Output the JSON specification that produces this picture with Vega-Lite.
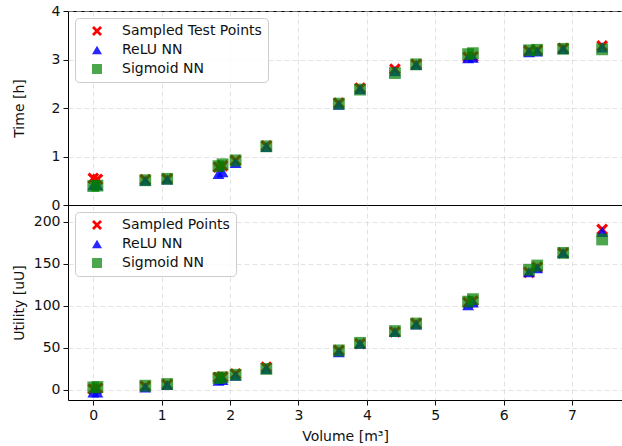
{
  "$schema": "https://vega.github.io/schema/vega-lite/v6.json",
  "padding": {"left": 11, "top": 3, "right": 0, "bottom": 0},
  "bounds": "flush",
  "config": {
    "font": "DejaVu Sans",
    "view": {"stroke": "black", "strokeWidth": 1},
    "axis": {
      "labelFont": "DejaVu Sans", "titleFont": "DejaVu Sans",
      "labelFontSize": 14, "titleFontSize": 14, "titleFontWeight": "normal",
      "labelColor": "#111", "titleColor": "#111",
      "tickColor": "#111", "tickSize": 5, "labelPadding": 3,
      "domain": false,
      "gridColor": "#cccccc", "gridOpacity": 0.55, "gridDash": [5, 3]
    },
    "legend": {
      "orient": "top-left", "offset": 7, "title": null,
      "labelFont": "DejaVu Sans", "labelFontSize": 14, "labelColor": "#111",
      "strokeColor": "#cccccc", "fillColor": "rgba(255,255,255,0.85)",
      "cornerRadius": 4, "padding": 6, "rowPadding": 5, "labelOffset": 18,
      "symbolOffset": 9, "symbolStrokeWidth": 0
    }
  },
  "data": {"values": [
    {"panel": "t", "s": "Sampled Test Points", "v": 0.0, "y": 0.55},
    {"panel": "t", "s": "Sampled Test Points", "v": 0.06, "y": 0.53},
    {"panel": "t", "s": "Sampled Test Points", "v": 0.76, "y": 0.52},
    {"panel": "t", "s": "Sampled Test Points", "v": 1.08, "y": 0.54},
    {"panel": "t", "s": "Sampled Test Points", "v": 1.83, "y": 0.78},
    {"panel": "t", "s": "Sampled Test Points", "v": 1.89, "y": 0.81},
    {"panel": "t", "s": "Sampled Test Points", "v": 2.08, "y": 0.92},
    {"panel": "t", "s": "Sampled Test Points", "v": 2.53, "y": 1.22},
    {"panel": "t", "s": "Sampled Test Points", "v": 3.59, "y": 2.1},
    {"panel": "t", "s": "Sampled Test Points", "v": 3.9, "y": 2.41},
    {"panel": "t", "s": "Sampled Test Points", "v": 4.41, "y": 2.8},
    {"panel": "t", "s": "Sampled Test Points", "v": 4.72, "y": 2.9},
    {"panel": "t", "s": "Sampled Test Points", "v": 5.48, "y": 3.05},
    {"panel": "t", "s": "Sampled Test Points", "v": 5.55, "y": 3.06},
    {"panel": "t", "s": "Sampled Test Points", "v": 6.37, "y": 3.18},
    {"panel": "t", "s": "Sampled Test Points", "v": 6.49, "y": 3.19},
    {"panel": "t", "s": "Sampled Test Points", "v": 6.87, "y": 3.23},
    {"panel": "t", "s": "Sampled Test Points", "v": 7.44, "y": 3.28},
    {"panel": "t", "s": "ReLU NN", "v": 0.0, "y": 0.41},
    {"panel": "t", "s": "ReLU NN", "v": 0.06, "y": 0.41},
    {"panel": "t", "s": "ReLU NN", "v": 0.76, "y": 0.5},
    {"panel": "t", "s": "ReLU NN", "v": 1.08, "y": 0.53},
    {"panel": "t", "s": "ReLU NN", "v": 1.83, "y": 0.64},
    {"panel": "t", "s": "ReLU NN", "v": 1.89, "y": 0.68},
    {"panel": "t", "s": "ReLU NN", "v": 2.08, "y": 0.87},
    {"panel": "t", "s": "ReLU NN", "v": 2.53, "y": 1.2},
    {"panel": "t", "s": "ReLU NN", "v": 3.59, "y": 2.07},
    {"panel": "t", "s": "ReLU NN", "v": 3.9, "y": 2.39},
    {"panel": "t", "s": "ReLU NN", "v": 4.41, "y": 2.76},
    {"panel": "t", "s": "ReLU NN", "v": 4.72, "y": 2.89},
    {"panel": "t", "s": "ReLU NN", "v": 5.48, "y": 3.03},
    {"panel": "t", "s": "ReLU NN", "v": 5.55, "y": 3.04},
    {"panel": "t", "s": "ReLU NN", "v": 6.37, "y": 3.15},
    {"panel": "t", "s": "ReLU NN", "v": 6.49, "y": 3.17},
    {"panel": "t", "s": "ReLU NN", "v": 6.87, "y": 3.22},
    {"panel": "t", "s": "ReLU NN", "v": 7.44, "y": 3.25},
    {"panel": "t", "s": "Sigmoid NN", "v": 0.0, "y": 0.39},
    {"panel": "t", "s": "Sigmoid NN", "v": 0.06, "y": 0.4},
    {"panel": "t", "s": "Sigmoid NN", "v": 0.76, "y": 0.51},
    {"panel": "t", "s": "Sigmoid NN", "v": 1.08, "y": 0.54},
    {"panel": "t", "s": "Sigmoid NN", "v": 1.83, "y": 0.8},
    {"panel": "t", "s": "Sigmoid NN", "v": 1.89, "y": 0.84},
    {"panel": "t", "s": "Sigmoid NN", "v": 2.08, "y": 0.92},
    {"panel": "t", "s": "Sigmoid NN", "v": 2.53, "y": 1.21},
    {"panel": "t", "s": "Sigmoid NN", "v": 3.59, "y": 2.09},
    {"panel": "t", "s": "Sigmoid NN", "v": 3.9, "y": 2.38},
    {"panel": "t", "s": "Sigmoid NN", "v": 4.41, "y": 2.72},
    {"panel": "t", "s": "Sigmoid NN", "v": 4.72, "y": 2.9},
    {"panel": "t", "s": "Sigmoid NN", "v": 5.48, "y": 3.11},
    {"panel": "t", "s": "Sigmoid NN", "v": 5.55, "y": 3.13},
    {"panel": "t", "s": "Sigmoid NN", "v": 6.37, "y": 3.19},
    {"panel": "t", "s": "Sigmoid NN", "v": 6.49, "y": 3.2},
    {"panel": "t", "s": "Sigmoid NN", "v": 6.87, "y": 3.22},
    {"panel": "t", "s": "Sigmoid NN", "v": 7.44, "y": 3.21},
    {"panel": "u", "s": "Sampled Points", "v": 0.0, "y": 1},
    {"panel": "u", "s": "Sampled Points", "v": 0.06, "y": 2},
    {"panel": "u", "s": "Sampled Points", "v": 0.76, "y": 4.5},
    {"panel": "u", "s": "Sampled Points", "v": 1.08, "y": 6.5},
    {"panel": "u", "s": "Sampled Points", "v": 1.83, "y": 15},
    {"panel": "u", "s": "Sampled Points", "v": 1.89, "y": 15.5},
    {"panel": "u", "s": "Sampled Points", "v": 2.08, "y": 19},
    {"panel": "u", "s": "Sampled Points", "v": 2.53, "y": 27},
    {"panel": "u", "s": "Sampled Points", "v": 3.59, "y": 47},
    {"panel": "u", "s": "Sampled Points", "v": 3.9, "y": 55},
    {"panel": "u", "s": "Sampled Points", "v": 4.41, "y": 69},
    {"panel": "u", "s": "Sampled Points", "v": 4.72, "y": 79},
    {"panel": "u", "s": "Sampled Points", "v": 5.48, "y": 104},
    {"panel": "u", "s": "Sampled Points", "v": 5.55, "y": 106},
    {"panel": "u", "s": "Sampled Points", "v": 6.37, "y": 140},
    {"panel": "u", "s": "Sampled Points", "v": 6.49, "y": 146},
    {"panel": "u", "s": "Sampled Points", "v": 6.87, "y": 163},
    {"panel": "u", "s": "Sampled Points", "v": 7.44, "y": 191},
    {"panel": "u", "s": "ReLU NN", "v": 0.0, "y": -3},
    {"panel": "u", "s": "ReLU NN", "v": 0.06, "y": -3},
    {"panel": "u", "s": "ReLU NN", "v": 0.76, "y": 3},
    {"panel": "u", "s": "ReLU NN", "v": 1.08, "y": 6},
    {"panel": "u", "s": "ReLU NN", "v": 1.83, "y": 11},
    {"panel": "u", "s": "ReLU NN", "v": 1.89, "y": 12},
    {"panel": "u", "s": "ReLU NN", "v": 2.08, "y": 17},
    {"panel": "u", "s": "ReLU NN", "v": 2.53, "y": 25},
    {"panel": "u", "s": "ReLU NN", "v": 3.59, "y": 45},
    {"panel": "u", "s": "ReLU NN", "v": 3.9, "y": 55},
    {"panel": "u", "s": "ReLU NN", "v": 4.41, "y": 69},
    {"panel": "u", "s": "ReLU NN", "v": 4.72, "y": 78},
    {"panel": "u", "s": "ReLU NN", "v": 5.48, "y": 101},
    {"panel": "u", "s": "ReLU NN", "v": 5.55, "y": 104},
    {"panel": "u", "s": "ReLU NN", "v": 6.37, "y": 140},
    {"panel": "u", "s": "ReLU NN", "v": 6.49, "y": 145},
    {"panel": "u", "s": "ReLU NN", "v": 6.87, "y": 163},
    {"panel": "u", "s": "ReLU NN", "v": 7.44, "y": 188},
    {"panel": "u", "s": "Sigmoid NN", "v": 0.0, "y": 3},
    {"panel": "u", "s": "Sigmoid NN", "v": 0.06, "y": 3.5},
    {"panel": "u", "s": "Sigmoid NN", "v": 0.76, "y": 5},
    {"panel": "u", "s": "Sigmoid NN", "v": 1.08, "y": 7},
    {"panel": "u", "s": "Sigmoid NN", "v": 1.83, "y": 14},
    {"panel": "u", "s": "Sigmoid NN", "v": 1.89, "y": 15},
    {"panel": "u", "s": "Sigmoid NN", "v": 2.08, "y": 18},
    {"panel": "u", "s": "Sigmoid NN", "v": 2.53, "y": 25},
    {"panel": "u", "s": "Sigmoid NN", "v": 3.59, "y": 47},
    {"panel": "u", "s": "Sigmoid NN", "v": 3.9, "y": 56},
    {"panel": "u", "s": "Sigmoid NN", "v": 4.41, "y": 70},
    {"panel": "u", "s": "Sigmoid NN", "v": 4.72, "y": 79},
    {"panel": "u", "s": "Sigmoid NN", "v": 5.48, "y": 105},
    {"panel": "u", "s": "Sigmoid NN", "v": 5.55, "y": 108},
    {"panel": "u", "s": "Sigmoid NN", "v": 6.37, "y": 143},
    {"panel": "u", "s": "Sigmoid NN", "v": 6.49, "y": 148},
    {"panel": "u", "s": "Sigmoid NN", "v": 6.87, "y": 163},
    {"panel": "u", "s": "Sigmoid NN", "v": 7.44, "y": 179}
  ]},
  "spacing": 0,
  "resolve": {
    "scale": {"color": "independent", "shape": "independent", "opacity": "independent", "y": "independent"},
    "legend": {"color": "independent", "shape": "independent", "opacity": "independent"}
  },
  "vconcat": [
    {
      "width": 554, "height": 194,
      "transform": [{"filter": "datum.panel == 't'"}],
      "mark": {"type": "point", "filled": true, "size": 140, "strokeWidth": 0},
      "encoding": {
        "x": {"field": "v", "type": "quantitative",
              "scale": {"domain": [-0.37, 7.73], "nice": false, "zero": false},
              "axis": {"title": null, "labels": false, "ticks": false, "values": [0,1,2,3,4,5,6,7], "grid": true}},
        "y": {"field": "y", "type": "quantitative",
              "scale": {"domain": [0, 4], "nice": false},
              "axis": {"title": "Time [h]", "values": [0,1,2,3,4], "grid": true, "titleX": -49, "titleBaseline": "middle"}},
        "color": {"field": "s", "type": "nominal",
                  "scale": {"domain": ["Sampled Test Points", "ReLU NN", "Sigmoid NN"], "range": ["#ff0000", "#0000ff", "#008000"]},
                  "legend": {"title": null}},
        "shape": {"field": "s", "type": "nominal",
                  "scale": {"domain": ["Sampled Test Points", "ReLU NN", "Sigmoid NN"],
                            "range": ["M-1,-0.62L-0.62,-1L0,-0.38L0.62,-1L1,-0.62L0.38,0L1,0.62L0.62,1L0,0.38L-0.62,1L-1,0.62L-0.38,0Z", "triangle-up", "square"]},
                  "legend": {"title": null}},
        "opacity": {"field": "s", "type": "nominal",
                    "scale": {"domain": ["Sampled Test Points", "ReLU NN", "Sigmoid NN"], "range": [1, 0.7, 0.7]},
                    "legend": {"title": null}}
      }
    },
    {
      "width": 554, "height": 195,
      "transform": [{"filter": "datum.panel == 'u'"}],
      "mark": {"type": "point", "filled": true, "size": 140, "strokeWidth": 0},
      "encoding": {
        "x": {"field": "v", "type": "quantitative",
              "scale": {"domain": [-0.37, 7.73], "nice": false, "zero": false},
              "axis": {"title": "Volume [m³]", "values": [0,1,2,3,4,5,6,7], "grid": true, "titlePadding": 7}},
        "y": {"field": "y", "type": "quantitative",
              "scale": {"domain": [-12, 220], "nice": false, "zero": false},
              "axis": {"title": "Utility [uU]", "values": [0,50,100,150,200], "grid": true, "titleX": -49, "titleBaseline": "middle"}},
        "color": {"field": "s", "type": "nominal",
                  "scale": {"domain": ["Sampled Points", "ReLU NN", "Sigmoid NN"], "range": ["#ff0000", "#0000ff", "#008000"]},
                  "legend": {"title": null}},
        "shape": {"field": "s", "type": "nominal",
                  "scale": {"domain": ["Sampled Points", "ReLU NN", "Sigmoid NN"],
                            "range": ["M-1,-0.62L-0.62,-1L0,-0.38L0.62,-1L1,-0.62L0.38,0L1,0.62L0.62,1L0,0.38L-0.62,1L-1,0.62L-0.38,0Z", "triangle-up", "square"]},
                  "legend": {"title": null}},
        "opacity": {"field": "s", "type": "nominal",
                    "scale": {"domain": ["Sampled Points", "ReLU NN", "Sigmoid NN"], "range": [1, 0.7, 0.7]},
                    "legend": {"title": null}}
      }
    }
  ]
}
